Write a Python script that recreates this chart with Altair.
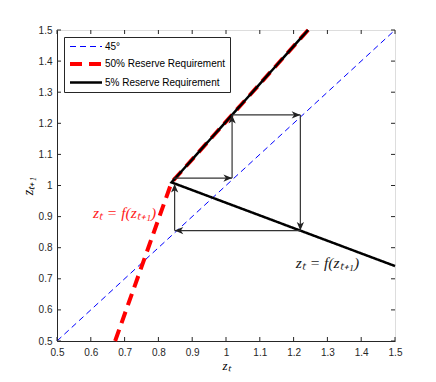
import altair as alt
import pandas as pd

# ---- data ----
series_names = ["45°", "50% Reserve Requirement", "5% Reserve Requirement"]
diag_x = [0.5, 1.5]
diag_y = [0.5, 1.5]
rr50_x = [0.672, 0.839, 1.243]
rr50_y = [0.5, 1.01, 1.5]
rr5_x = [1.243, 0.839, 1.5]
rr5_y = [1.5, 1.01, 0.741]

# cobweb arrows (start -> end)
cob_x0 = [0.845, 1.018, 1.018, 1.22, 1.22, 0.848]
cob_y0 = [1.024, 1.024, 1.227, 1.227, 0.855, 0.855]
cob_x1 = [1.018, 1.018, 1.22, 1.22, 0.848, 0.848]
cob_y1 = [1.024, 1.227, 1.227, 0.855, 0.855, 1.005]
cob_dir = [90, 0, 90, 180, 270, 0]  # arrow head rotation

labels_text = ["zₜ = f(zₜ₊₁)", "zₜ = f(zₜ₊₁)"]
labels_x = [0.7, 1.3]
labels_y = [0.912, 0.751]
labels_col = ["#ff2020", "#1a1a1a"]

tick_vals = [0.5, 0.6, 0.7, 0.8, 0.9, 1.0, 1.1, 1.2, 1.3, 1.4, 1.5]

W, H = 338, 311
AX = "#262626"

rows = []
for name, xs, ys in zip(series_names, [diag_x, rr50_x, rr5_x], [diag_y, rr50_y, rr5_y]):
    for i, (x, y) in enumerate(zip(xs, ys)):
        rows.append({"series": name, "x": x, "y": y, "i": i})
lines_df = pd.DataFrame(rows)

cob_df = pd.DataFrame({"x0": cob_x0, "y0": cob_y0, "x1": cob_x1, "y1": cob_y1, "ang": cob_dir})
lab_df = pd.DataFrame({"t": labels_text, "x": labels_x, "y": labels_y, "c": labels_col})
tick_df = pd.DataFrame({"v": tick_vals})

xs = alt.Scale(domain=[0.5, 1.5], nice=False, zero=False)
ys = alt.Scale(domain=[0.5, 1.5], nice=False, zero=False)

color_scale = alt.Scale(type="ordinal", domain=series_names, range=["#0000ff", "#ff0000", "#000000"])
dash_scale = alt.Scale(type="ordinal", domain=series_names, range=[[6, 4], [12, 7], [1, 0]])
width_scale = alt.Scale(type="ordinal", domain=series_names, range=[1, 4, 2.5])

legend = alt.Legend(
    title=None, orient="top-left", offset=7, fillColor="white", strokeColor=AX,
    padding=4, labelFont="Liberation Sans", labelFontSize=10, labelColor="#000",
    symbolType="M-1,0L5.4,0", symbolSize=100, labelOffset=23, rowPadding=4,
)

axis_common = dict(values=tick_vals, format=".1~f", ticks=False, grid=False, labelOverlap=False,
                   labelFlush=False, domainColor=AX, labelColor=AX, labelFont="Liberation Sans",
                   labelFontSize=10, titleFont="Liberation Serif", titleFontStyle="italic",
                   titleFontWeight="normal", titleColor="#000")
x_axis = alt.Axis(labelPadding=6, title="zₜ", titlePadding=2, titleFontSize=13, **axis_common)
y_axis = alt.Axis(labelPadding=5, title="zₜ₊₁", titlePadding=3, titleFontSize=14, **axis_common)

def line_layer(name):
    return alt.Chart(lines_df).transform_filter(alt.datum.series == name).mark_line().encode(
        x=alt.X("x:Q", scale=xs, axis=x_axis),
        y=alt.Y("y:Q", scale=ys, axis=y_axis),
        color=alt.Color("series:N", scale=color_scale, legend=legend),
        strokeDash=alt.StrokeDash("series:N", scale=dash_scale, legend=legend),
        strokeWidth=alt.StrokeWidth("series:N", scale=width_scale, legend=legend),
        order="i:Q",
    )

cob_lines = alt.Chart(cob_df).mark_rule(color="#333333", strokeWidth=1.2).encode(
    x=alt.X("x0:Q", scale=xs, axis=x_axis), y=alt.Y("y0:Q", scale=ys, axis=y_axis), x2="x1:Q", y2="y1:Q"
)
cob_heads = alt.Chart(cob_df).mark_point(
    shape="M0,0L-0.42,1L0,0.72L0.42,1Z", filled=True, color="#222222", size=300, opacity=1
).encode(x=alt.X("x1:Q", scale=xs, axis=x_axis), y=alt.Y("y1:Q", scale=ys, axis=y_axis),
         angle=alt.Angle("ang:Q", scale=None))

texts = alt.Chart(lab_df).mark_text(font="Liberation Serif", fontStyle="italic", fontSize=15.5).encode(
    x=alt.X("x:Q", scale=xs, axis=x_axis), y=alt.Y("y:Q", scale=ys, axis=y_axis), text="t:N",
    color=alt.Color("c:N", scale=None)
)

tk = 4
ticks_b = alt.Chart(tick_df).mark_rule(color=AX, strokeWidth=1).encode(
    x=alt.X("v:Q", scale=xs, axis=x_axis), y=alt.value(H), y2=alt.value(H - tk))
ticks_t = alt.Chart(tick_df).mark_rule(color=AX, strokeWidth=1).encode(
    x=alt.X("v:Q", scale=xs, axis=x_axis), y=alt.value(0), y2=alt.value(tk))
ticks_l = alt.Chart(tick_df).mark_rule(color=AX, strokeWidth=1).encode(
    y=alt.Y("v:Q", scale=ys, axis=y_axis), x=alt.value(0), x2=alt.value(tk))
ticks_r = alt.Chart(tick_df).mark_rule(color=AX, strokeWidth=1).encode(
    y=alt.Y("v:Q", scale=ys, axis=y_axis), x=alt.value(W), x2=alt.value(W - tk))

chart = alt.layer(
    line_layer(series_names[0]), line_layer(series_names[1]), line_layer(series_names[2]),
    cob_lines, cob_heads, texts, ticks_b, ticks_t, ticks_l, ticks_r,
).properties(
    width=W, height=H,
    autosize=alt.AutoSizeParams(type="none"),
    padding={"left": 49, "top": 22, "right": 30, "bottom": 33},
).configure_view(stroke=AX, strokeWidth=1).configure_axis(labelOverlap=False).configure(background="white")

chart.save("out.html", embed_options={"renderer": "svg", "actions": False})
